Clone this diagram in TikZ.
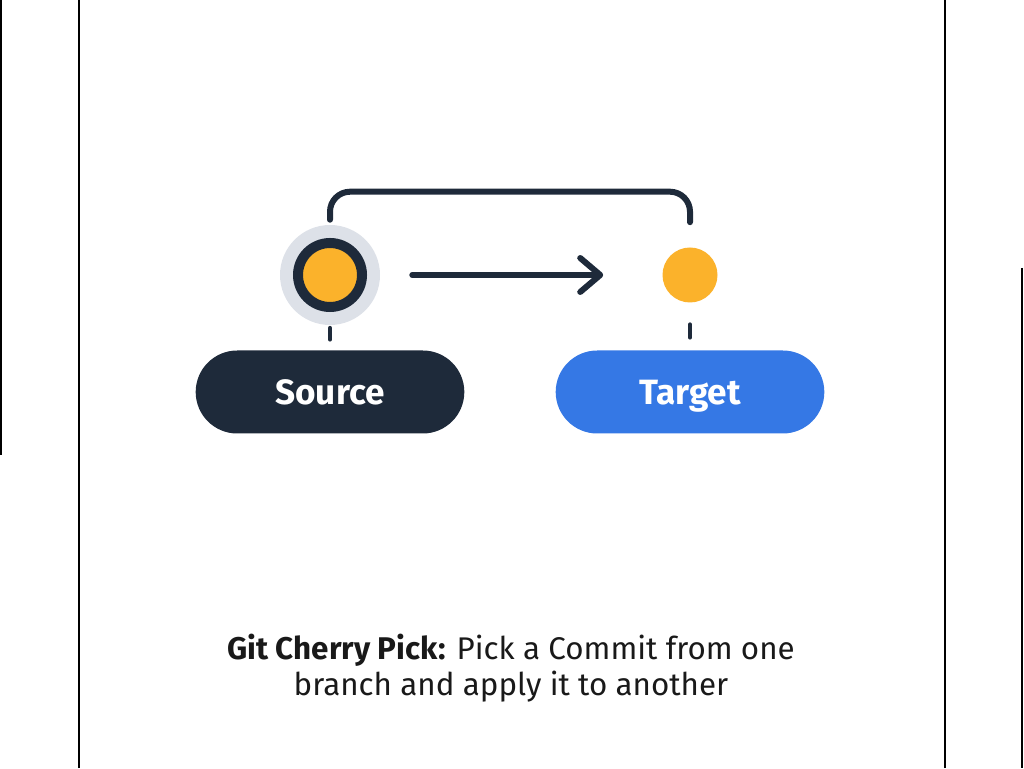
\documentclass[tikz,border=0pt]{standalone}
\usepackage{fontspec}
\setmainfont{Fira Sans}
\usetikzlibrary{arrows.meta, shapes.misc, positioning}
\definecolor{ink}{HTML}{1E2A3A}
\definecolor{halo}{HTML}{DDE1E8}
\definecolor{cherry}{HTML}{FBB22B}
\definecolor{branch}{HTML}{3578E5}
\tikzstyle{halo}=[circle,fill=halo,minimum size=25mm,inner sep=0pt]
\tikzstyle{ring}=[circle,draw=ink,line width=2.5mm,fill=cherry,minimum size=16mm,inner sep=0pt]
\tikzstyle{dot}=[circle,fill=cherry,minimum size=13.75mm,inner sep=0pt]
\tikzstyle{pill}=[rounded rectangle,minimum width=69.5mm,minimum height=20.75mm,text=white,text height=17.2pt,text depth=0pt,font=\bfseries\fontsize{25}{29}\selectfont]
\tikzstyle{link}=[ink,line width=1.5mm,line cap=round,line join=round]
\tikzstyle{frame}=[black,line width=0.7mm]

\begin{document}
\begin{tikzpicture}[x=0.25mm,y=0.25mm]
    \useasboundingbox (0,0) rectangle (1024,768);
    % page edges
    \draw[frame] (1,768) -- (1,313);
    \draw[frame] (79,0) -- (79,768);
    \draw[frame] (945,0) -- (945,768);
    \draw[frame] (1022,500) -- (1022,0);
    % commits
    \node[halo] (src) at (330,493) {};
    \node[ring] (srcc) at (src) {};
    \node[dot] (tgt) at (690,493) {};
    % branches
    \foreach \x/\n/\t/\c in {330/srcl/Source/ink, 690/tgtl/Target/branch}
        \node[pill,fill=\c] (\n) at (\x,376) {\t};
    % links
    \draw[link,rounded corners=5mm] ([yshift=1.25mm]src.north) -- ([yshift=8.25mm]src.north) -| ([yshift=6.25mm]tgt.north);
    \draw[link,-{Straight Barb[length=5mm,width=8.5mm,round]}] ([xshift=8mm]src.east) -- ([xshift=-14.75mm]tgt.west);
    \foreach \a/\b/\s/\e in {src/srcl/0.75/2.75, tgt/tgtl/5.5/3.25}
        \draw[link,line width=1.2mm] ([yshift=-\s mm]\a.south) -- ([yshift=\e mm]\b.north);
    % caption
    \node[align=center,text=black!90,font=\fontsize{22.3}{26}\selectfont] (cap) at (511,100)
        {\textbf{Git Cherry Pick:} Pick a Commit from one\\branch and apply it to another};
\end{tikzpicture}
\end{document}
